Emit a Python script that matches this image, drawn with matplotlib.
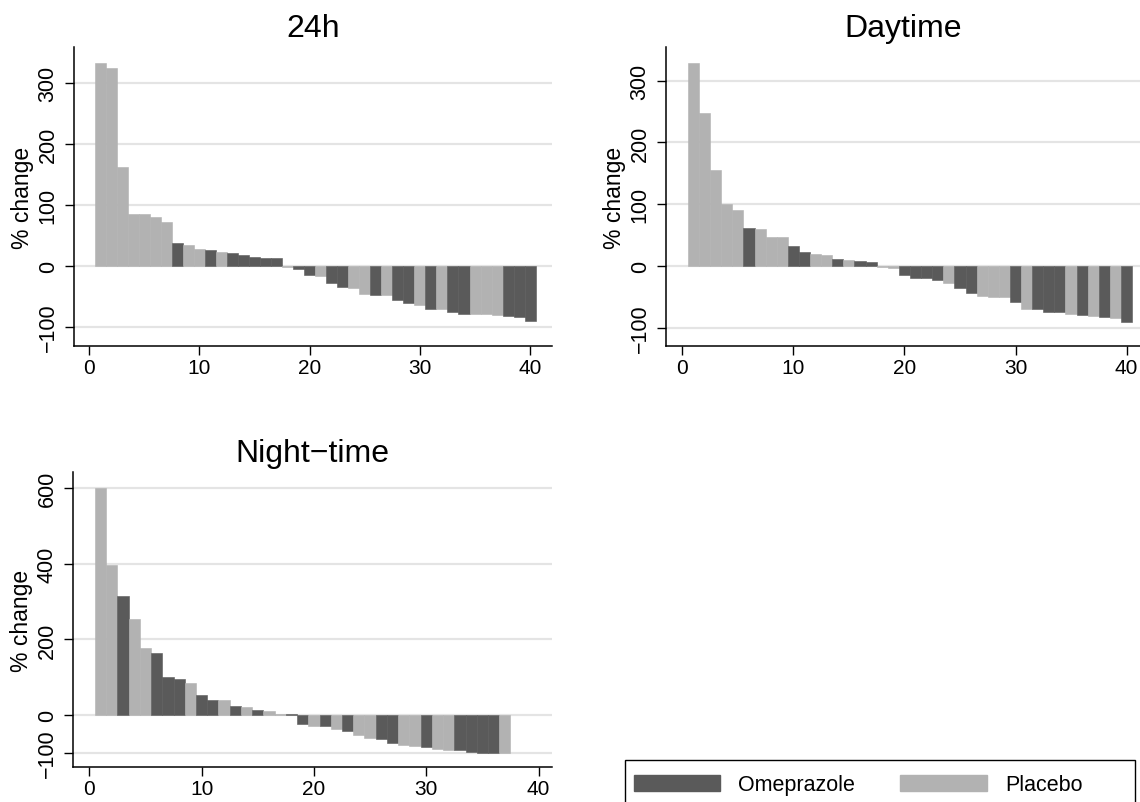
import matplotlib
matplotlib.use("Agg")
import matplotlib.pyplot as plt
import matplotlib.patches as mpatches
import numpy as np

plt.rcParams['font.family'] = ['Liberation Sans', 'DejaVu Sans']

# Colours for the two treatment groups
darkColor = '#5a5a5a'
lightColor = '#b2b2b2'
gridColor = '#e4e4e4'

groupNames = ['Omeprazole', 'Placebo']

# 24h: % change per patient, sorted descending. O = omeprazole, P = placebo
values24h = [333, 324, 163, 86, 85, 81, 72, 37, 34, 28,
             27, 23, 22, 18, 15, 13, 13, -2, -5, -14,
             -16, -28, -35, -36, -46, -47, -48, -55, -60, -64,
             -70, -70, -76, -78, -78, -79, -81, -82, -84, -90]
groups24h = ['P', 'P', 'P', 'P', 'P', 'P', 'P', 'O', 'P', 'P',
             'O', 'P', 'O', 'O', 'O', 'O', 'O', 'P', 'O', 'O',
             'P', 'O', 'O', 'P', 'P', 'O', 'P', 'O', 'O', 'P',
             'O', 'P', 'O', 'O', 'P', 'P', 'P', 'O', 'O', 'O']

# Daytime
valuesDay = [329, 248, 155, 101, 90, 62, 60, 47, 47, 33,
             23, 20, 17, 11, 10, 8, 7, -1, -3, -14,
             -19, -20, -22, -28, -36, -43, -49, -50, -50, -59,
             -69, -70, -75, -75, -77, -79, -81, -82, -84, -91]
groupsDay = ['P', 'P', 'P', 'P', 'P', 'O', 'P', 'P', 'P', 'O',
             'O', 'P', 'P', 'O', 'P', 'O', 'O', 'P', 'P', 'O',
             'O', 'O', 'O', 'P', 'O', 'O', 'P', 'P', 'P', 'O',
             'P', 'O', 'O', 'O', 'P', 'O', 'P', 'O', 'P', 'O']

# Night-time (37 patients)
valuesNight = [600, 396, 316, 254, 178, 164, 100, 95, 84, 52,
               41, 41, 23, 21, 14, 10, 3, 2, -23, -29,
               -30, -38, -43, -53, -60, -63, -75, -79, -81, -84,
               -90, -92, -93, -97, -100, -100, -100]
groupsNight = ['P', 'P', 'O', 'P', 'P', 'O', 'O', 'O', 'P', 'O',
               'O', 'P', 'O', 'P', 'O', 'P', 'P', 'O', 'O', 'P',
               'O', 'P', 'O', 'P', 'P', 'O', 'O', 'P', 'P', 'O',
               'P', 'P', 'O', 'O', 'O', 'O', 'P']

xTicks = [0, 10, 20, 30, 40]
yTicks24h = [-100, 0, 100, 200, 300]
yTicksDay = [-100, 0, 100, 200, 300]
yTicksNight = [-100, 0, 200, 400, 600]

W, H = 1140, 803


def pixelRect(left, top, right, bottom):
    # Convert a pixel box into figure fractions for add_axes
    return [left / W, 1 - bottom / H, (right - left) / W, (bottom - top) / H]


def drawPanel(fig, rect, title, values, groups, yTicks, xLim, yLim):
    ax = fig.add_axes(rect)
    x = np.arange(1, len(values) + 1)
    colors = [darkColor if g == 'O' else lightColor for g in groups]
    ax.bar(x, values, width=1.0, color=colors, edgecolor=colors, linewidth=0.4, zorder=2)

    ax.set_xlim(*xLim)
    ax.set_ylim(*yLim)
    ax.set_xticks(xTicks)
    ax.set_yticks(yTicks)
    ax.set_yticklabels(['\u2212100' if t < 0 else str(t) for t in yTicks])

    # Stata-like look: horizontal grid, left/bottom axis only
    ax.grid(axis='y', color=gridColor, linewidth=1.6, zorder=0)
    ax.set_axisbelow(True)
    for side in ['top', 'right']:
        ax.spines[side].set_visible(False)
    for side in ['left', 'bottom']:
        ax.spines[side].set_linewidth(1.1)

    ax.tick_params(axis='both', direction='out', length=6.5, width=1.0, colors='black')
    ax.tick_params(axis='x', labelsize=15, pad=2)
    ax.tick_params(axis='y', labelsize=15.5, labelrotation=90, pad=4.5)
    for label in ax.get_yticklabels():
        label.set_va('center')

    ax.set_ylabel('% change', fontsize=16.5, labelpad=3)
    ax.set_title(title, fontsize=23, pad=8)
    return ax


fig = plt.figure(figsize=(W / 100, H / 100), dpi=100)
fig.patch.set_facecolor('white')

drawPanel(fig, pixelRect(74, 48, 552, 347), '24h', values24h, groups24h,
          yTicks24h, (-1.36, 41.98), (-131, 359))
drawPanel(fig, pixelRect(666, 48, 1141, 347), 'Daytime', valuesDay, groupsDay,
          yTicksDay, (-1.47, 41.3), (-129.5, 354.5))
drawPanel(fig, pixelRect(73, 473, 552, 768), 'Night\u2212time', valuesNight, groupsNight,
          yTicksNight, (-1.45, 41.2), (-137.6, 643))

# Legend box in the empty bottom-right cell, cut off by the figure edge
frame = mpatches.Rectangle((625 / W, -0.05), (1135 - 625) / W, 0.05 + 1 - 761 / H,
                           transform=fig.transFigure, facecolor='white',
                           edgecolor='black', linewidth=1.0)
fig.patches.append(frame)

handles = [mpatches.Patch(facecolor=darkColor, edgecolor=darkColor),
           mpatches.Patch(facecolor=lightColor, edgecolor=lightColor)]
leg = fig.legend(handles, groupNames, loc='center left',
                 bbox_to_anchor=(634 / W, 1 - 786 / H), ncol=2,
                 fontsize=15.5, frameon=False,
                 handlelength=4.0, handleheight=0.75, handletextpad=0.85,
                 columnspacing=2.1, borderpad=0, borderaxespad=0)

fig.savefig('out.png', dpi=100, facecolor='white')
